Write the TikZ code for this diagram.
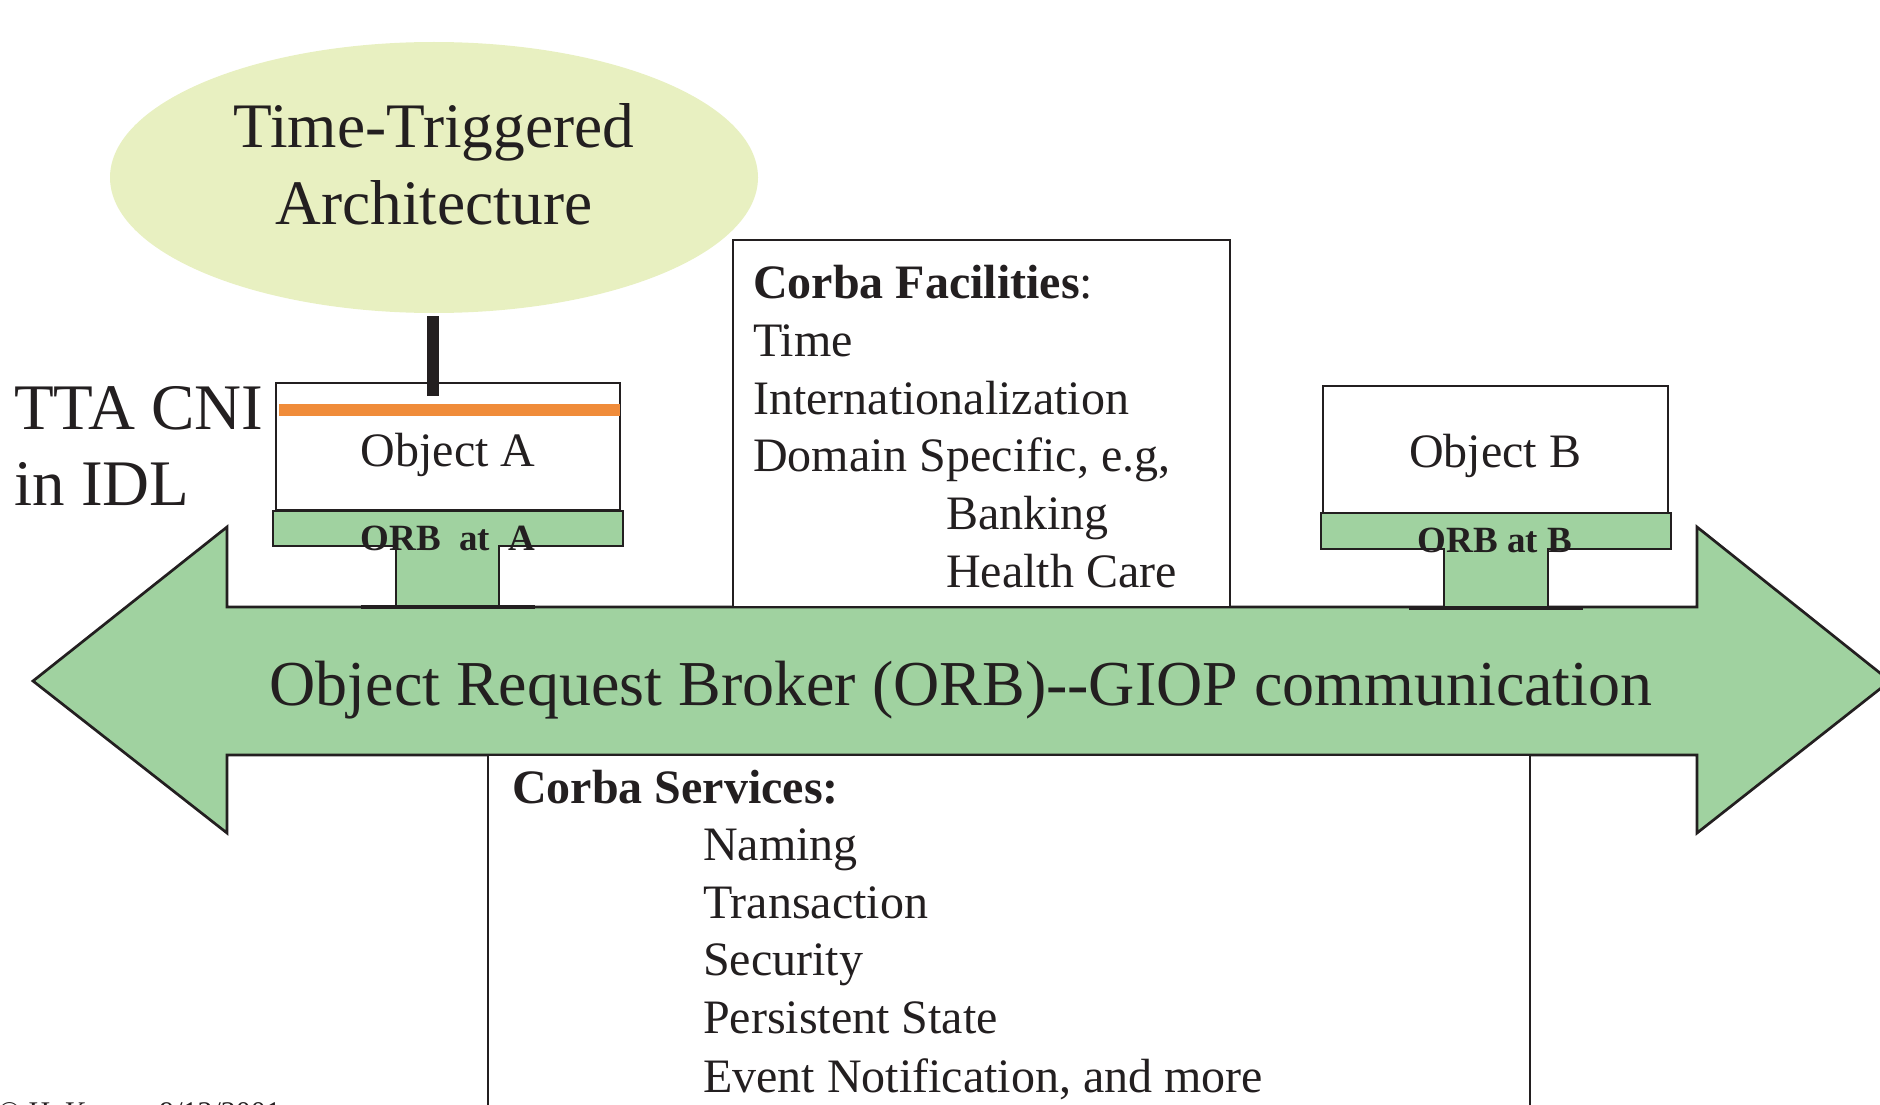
\documentclass[tikz,border=0pt]{standalone}
\usepackage{fontspec}
\setmainfont{Liberation Serif}
\usetikzlibrary{shapes.geometric}
\definecolor{ink}{RGB}{35,31,32}
\definecolor{ttafill}{RGB}{232,240,193}
\definecolor{orbgreen}{RGB}{160,210,160}
\definecolor{cniorange}{RGB}{240,140,58}
\tikzset{
  outline/.style={draw=ink, line width=2.7pt, line join=miter},
  bigtxt/.style={inner sep=0pt, anchor=base west, text=ink, font=\fontsize{65}{76}\selectfont},
  midtxt/.style={inner sep=0pt, anchor=base west, text=ink, font=\fontsize{48}{57.6}\selectfont},
  objtxt/.style={inner sep=0pt, anchor=base, text=ink, font=\fontsize{48}{57.6}\selectfont},
  orbtxt/.style={inner sep=0pt, anchor=base, text=ink, font=\fontsize{37}{44}\selectfont\bfseries},
  whitebox/.style={outline, fill=white, inner sep=0pt},
}
\begin{document}
\begin{tikzpicture}[x=1pt,y=-1pt]
\useasboundingbox (0,0) rectangle (1880,1105);

% TTA ellipse
\node[ellipse, fill=ttafill, minimum width=648pt, minimum height=271pt, inner sep=0pt] (tta) at (434,177.5) {};
\node[inner sep=0pt, anchor=base, text=ink, font=\fontsize{63.4}{76}\selectfont] (tta1) at (434,148) {Time-Triggered};
\node[inner sep=0pt, anchor=base, text=ink, font=\fontsize{63.4}{76}\selectfont] (tta2) at (434,224) {Architecture};

% main double arrow
\draw[outline, fill=orbgreen] (33,681) -- (227,527) -- (227,607) -- (1697,607) -- (1697,527) -- (1890,681)
  -- (1697,833) -- (1697,755) -- (227,755) -- (227,833) -- cycle;
\node[inner sep=0pt, anchor=base, text=ink, font=\fontsize{64}{76}\selectfont] (orbmain) at (961,705)
  {Object Request Broker (ORB)-{}-GIOP communication};

% Corba facilities box
\path[whitebox] (733,240) rectangle (1230,607);
\node[midtxt] (fac0) at (753,298.5) {\textbf{Corba Facilities}:};
\node[midtxt] (fac1) at (753,356) {Time};
\node[midtxt] (fac2) at (753,414) {Internationalization};
\node[midtxt] (fac3) at (753,471.5) {Domain Specific, e.g,};
\node[midtxt] (fac4) at (946,529) {Banking};
\node[midtxt] (fac5) at (946,587) {Health Care};

% Corba services box
\path[whitebox] (488,755) rectangle (1530,1125);
\node[midtxt] (srv0) at (512,803) {\textbf{Corba Services:}};
\node[midtxt] (srv1) at (703,860) {Naming};
\node[midtxt] (srv2) at (703,918) {Transaction};
\node[midtxt] (srv3) at (703,975) {Security};
\node[midtxt] (srv4) at (703,1033) {Persistent State};
\node[midtxt] (srv5) at (703,1092) {Event Notification, and more};

% Object A
\node[whitebox, minimum width=344pt, minimum height=127pt] (objA) at (448,446.5) {};
\draw[cniorange, line width=12pt] (279,410) -- (620,410);
\node[objtxt] (objAtxt) at (448,466) {Object A};
\draw[outline, fill=orbgreen] (273,511) -- (623,511) -- (623,546) -- (499,546) -- (499,607)
  -- (396,607) -- (396,546) -- (273,546) -- cycle;
\draw[draw=ink, line width=3.5pt] (361,607) -- (535,607);
\node[orbtxt] (orbA) at (448,550) {ORB\ \ at\ \ A};

% connector TTA -> CNI
\coordinate (cniend) at (433,396);
\draw[ink, line width=12pt] ([yshift=-3pt]tta.south -| cniend) -- (cniend);

% Object B
\node[whitebox, minimum width=345pt, minimum height=127pt] (objB) at (1495.5,449.5) {};
\node[objtxt] (objBtxt) at (1495,467) {Object B};
\draw[outline, fill=orbgreen] (1321,513) -- (1671,513) -- (1671,549) -- (1548,549) -- (1548,608)
  -- (1444,608) -- (1444,549) -- (1321,549) -- cycle;
\draw[draw=ink, line width=3.5pt] (1409,608) -- (1583,608);
\node[orbtxt] (orbB) at (1495,552) {ORB at B};

% TTA CNI label
\node[bigtxt] (cni1) at (14,429) {TTA CNI};
\node[bigtxt] (cni2) at (14,505) {in IDL};

% footer (cut by page edge, as in the reference)
\node[inner sep=0pt, anchor=base west, text=ink, font=\fontsize{30}{36}\selectfont] (foot) at (-2,1122) {© H. Kopetz 9/12/2001};
\end{tikzpicture}
\end{document}
